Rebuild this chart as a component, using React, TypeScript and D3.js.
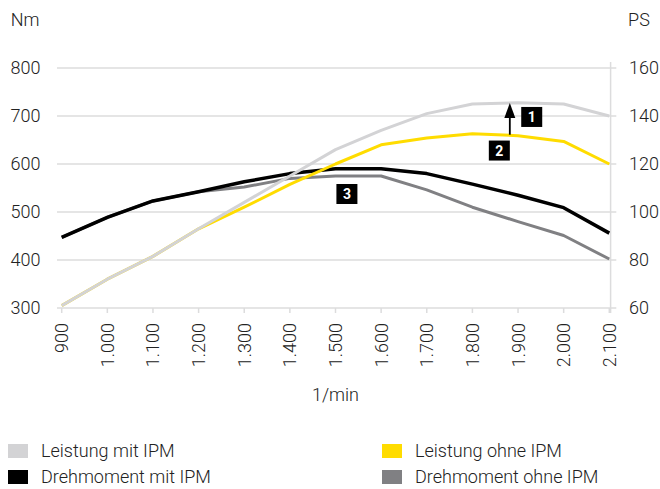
import React from 'react';
import * as d3 from 'd3';

// rpm categories and tick labels
const rpm = [900, 1000, 1100, 1200, 1300, 1400, 1500, 1600, 1700, 1800, 1900, 2000, 2100];
const rpmLabels = ['900', '1.000', '1.100', '1.200', '1.300', '1.400', '1.500', '1.600', '1.700', '1.800', '1.900', '2.000', '2.100'];
const nmTicks = [300, 400, 500, 600, 700, 800];
const psTicks = [60, 80, 100, 120, 140, 160];

// torque (Nm, left axis)
const drehmomentMit = [447, 489, 523, 542, 563, 580, 590, 590, 580, 558, 535, 509, 456];
const drehmomentOhne = [447, 489, 523, 542, 552, 570, 575, 575, 546, 510, 480, 451, 402];
// power (PS, right axis)
const leistungMit = [61, 72, 81.5, 93, 104, 115, 126, 134, 141, 145, 145.5, 145, 140];
const leistungOhne = [61, 72, 81.5, 93, 102, 111.5, 120, 128, 130.8, 132.6, 131.8, 129.4, 120];

// callouts: [rpm, PS]
const callouts = [
  { label: '1', rpm: 1930, ps: 139.6 },
  { label: '2', rpm: 1859, ps: 125.6 },
  { label: '3', rpm: 1525, ps: 107.5 },
];
const arrow = { rpm: 1882, from: 132.2, to: 145.4 };

const legendItems = [
  { name: 'Leistung mit IPM', color: '#d3d3d5' },
  { name: 'Leistung ohne IPM', color: '#ffdc00' },
  { name: 'Drehmoment mit IPM', color: '#000000' },
  { name: 'Drehmoment ohne IPM', color: '#808083' },
];

const font = 'Roboto, "DejaVu Sans", sans-serif';

export default function App() {
  const width = 660;
  const height = 489;
  const x = d3.scaleLinear().domain([900, 2100]).range([61.7, 609.3]);
  const yNm = d3.scaleLinear().domain([300, 800]).range([308, 68]);
  const yPs = d3.scaleLinear().domain([60, 160]).range([308, 68]);

  const lineNm = d3.line<number>().x((_, i) => x(rpm[i])).y((d) => yNm(d));
  const linePs = d3.line<number>().x((_, i) => x(rpm[i])).y((d) => yPs(d));

  const series = [
    { d: lineNm(drehmomentOhne), color: '#808083', w: 3 },
    { d: lineNm(drehmomentMit), color: '#000000', w: 3.5 },
    { d: linePs(leistungOhne), color: '#ffdc00', w: 3 },
    { d: linePs(leistungMit), color: '#d3d3d5', w: 3 },
  ];

  const x0 = 57;
  const xr = x(2100);

  return (
    <svg width={width} height={height} style={{ position: 'absolute', left: 0, top: 0, background: '#fff' }} fontFamily={font}>
      {/* gridlines */}
      {nmTicks.map((t) => (
        <line key={t} x1={x0} x2={xr + 7} y1={yNm(t)} y2={yNm(t)} stroke="#dcdcdd" strokeWidth={1.5} />
      ))}
      {/* right axis line */}
      <line x1={xr + 1.3} x2={xr + 1.3} y1={62} y2={yNm(300) + 5} stroke="#dcdcdd" strokeWidth={1.5} />
      {/* bottom ticks */}
      {rpm.map((r) => (
        <line key={r} x1={x(r)} x2={x(r)} y1={yNm(300)} y2={yNm(300) + 5} stroke="#dcdcdd" strokeWidth={1.5} />
      ))}
      {/* left tick labels */}
      {nmTicks.map((t) => (
        <text key={t} x={40.5} y={yNm(t)} dy="0.36em" textAnchor="end" fontSize={18} fontWeight={300} fill="#222">
          {t}
        </text>
      ))}
      {/* right tick labels */}
      {psTicks.map((t) => (
        <text key={t} x={629} y={yPs(t)} dy="0.36em" textAnchor="start" fontSize={18} fontWeight={300} fill="#222">
          {t}
        </text>
      ))}
      {/* x tick labels */}
      {rpm.map((r, i) => (
        <text
          key={r}
          transform={`translate(${x(r)},323) rotate(-90)`}
          dy="0.36em"
          textAnchor="end"
          fontSize={18}
          fontWeight={300}
          fill="#222"
        >
          {rpmLabels[i]}
        </text>
      ))}
      <text x={25} y={20} dy="0.36em" textAnchor="middle" fontSize={18} fontWeight={300} fill="#222">Nm</text>
      <text x={639} y={20} dy="0.36em" textAnchor="middle" fontSize={18} fontWeight={300} fill="#222">PS</text>
      <text x={(x(900) + xr) / 2} y={395} dy="0.36em" textAnchor="middle" fontSize={18} fontWeight={300} fill="#222">1/min</text>

      {/* series */}
      {series.map((s, i) => (
        <path key={i} d={s.d || ''} fill="none" stroke={s.color} strokeWidth={s.w} strokeLinejoin="round" />
      ))}

      {/* arrow */}
      <line x1={x(arrow.rpm)} x2={x(arrow.rpm)} y1={yPs(arrow.from)} y2={yPs(arrow.to) + 12} stroke="#000" strokeWidth={1.8} />
      <path
        d={`M${x(arrow.rpm)},${yPs(arrow.to)} L${x(arrow.rpm) - 5.5},${yPs(arrow.to) + 15} L${x(arrow.rpm) + 5.5},${yPs(arrow.to) + 15} Z`}
        fill="#000"
      />
      {/* callout boxes */}
      {callouts.map((c) => (
        <g key={c.label} transform={`translate(${x(c.rpm)},${yPs(c.ps)})`}>
          <rect x={-10.5} y={-10} width={21} height={20} fill="#000" />
          <text y={0} dy="0.36em" textAnchor="middle" fontSize={14} fontWeight={700} fill="#fff">
            {c.label}
          </text>
        </g>
      ))}

      {/* legend */}
      {legendItems.map((it, i) => {
        const col = i % 2;
        const row = Math.floor(i / 2);
        const lx = col === 0 ? 8 : 382;
        const ly = 451 + row * 26;
        return (
          <g key={it.name} transform={`translate(${lx},${ly})`}>
            <rect x={0} y={-7} width={20} height={14} fill={it.color} />
            <text x={33} y={0} dy="0.36em" fontSize={18} fontWeight={300} fill="#222">
              {it.name}
            </text>
          </g>
        );
      })}
    </svg>
  );
}
